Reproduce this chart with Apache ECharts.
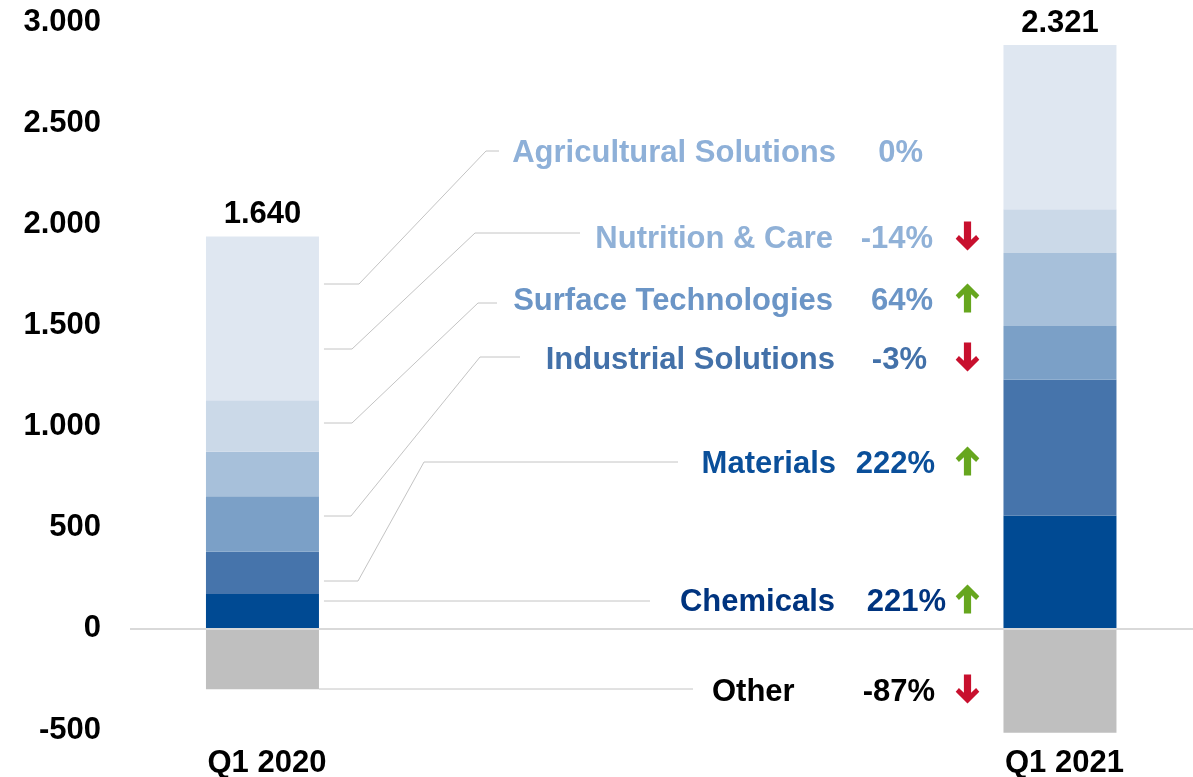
<!DOCTYPE html>
<html>
<head>
<meta charset="utf-8">
<script src="https://cdn.jsdelivr.net/npm/echarts@6/dist/echarts.min.js"></script>
<style>
html,body{margin:0;padding:0;background:#fff;}
#chart{width:1193px;height:777px;}
</style>
</head>
<body>
<div id="chart"></div>
<script>
// ---- data ----
const categories = ['Q1 2020', 'Q1 2021'];
const segmentNames = ['Chemicals', 'Materials', 'Industrial Solutions', 'Surface Technologies', 'Nutrition & Care', 'Agricultural Solutions', 'Other'];
const chemicals = [172, 559];
const materials = [209, 672];
const industrialSolutions = [274, 266];
const surfaceTechnologies = [221, 361];
const nutritionCare = [254, 216];
const agriculturalSolutions = [810, 812];
const other = [-298, -513];
const totalLabels = [1640, 2321];
const changePct = ['221%', '222%', '-3%', '64%', '-14%', '0%', '-87%'];
const changeDir = ['up', 'up', 'down', 'up', 'down', 'none', 'down'];

// ---- styles / layout ----
const FONT = '"Liberation Sans", Arial, sans-serif';
const FS = 31;
const barColors = ['#004a93', '#4674ab', '#7ba0c7', '#a7c0da', '#cbd9e8', '#dfe7f1', '#bfbfbf'];
const textColors = ['#00347f', '#0a4f9a', '#4371a9', '#6b95c6', '#90b1d7', '#8eb0d8', '#000000'];
const BAR_W = 113;
// annotation layout (pixels): text row y, name anchor, pct right edge, leader polyline (after start)
const annot = [
  {ty: 600, nx: 835, nalign: 'right', px: 946, ly: 601, pts: [[650, 601]]},
  {ty: 462, nx: 836, nalign: 'right', px: 935, ly: 581, pts: [[358, 581], [424, 462], [678, 462]]},
  {ty: 358, nx: 835, nalign: 'right', px: 927, ly: 516, pts: [[351, 516], [480, 357], [520, 357]]},
  {ty: 299, nx: 833, nalign: 'right', px: 933, ly: 423, pts: [[352, 423], [478, 303], [497, 303]]},
  {ty: 237, nx: 833, nalign: 'right', px: 933, ly: 349, pts: [[352, 349], [475, 233], [580, 233]]},
  {ty: 151, nx: 836, nalign: 'right', px: 923, ly: 284, pts: [[359, 284], [486, 151], [499, 151]]},
  {ty: 690, nx: 712, nalign: 'left', px: 935, ly: 689, pts: [[693, 689]]}
];
const TEXT_DY = 2;
const ARROW_X = 967.5;

function fmtThousands(v) {
  const s = String(Math.abs(Math.round(v)));
  const out = s.replace(/\B(?=(\d{3})+(?!\d))/g, '.');
  return (v < 0 ? '-' : '') + out;
}

const seriesValues = [chemicals, materials, industrialSolutions, surfaceTechnologies, nutritionCare, agriculturalSolutions, other];

const chart = echarts.init(document.getElementById('chart'), null, {renderer: 'canvas'});

const series = seriesValues.map((vals, i) => {
  const s = {
    name: segmentNames[i],
    type: 'bar',
    stack: 'total',
    barWidth: BAR_W,
    clip: false,
    itemStyle: {color: barColors[i]},
    // value first so that it is the stacked dimension; x position second
    dimensions: ['val', 'pos'],
    encode: {x: 'pos', y: 'val'},
    data: vals.map((v, k) => [v, k]),
    emphasis: {disabled: true}
  };
  if (i === 5) {
    s.label = {
      show: true,
      position: 'top',
      distance: 6,
      formatter: p => fmtThousands(totalLabels[p.dataIndex]),
      fontFamily: FONT, fontSize: FS, fontWeight: 'bold', color: '#000'
    };
  }
  if (i === 0) {
    s.markLine = {
      silent: true,
      symbol: 'none',
      label: {show: false},
      lineStyle: {color: '#d9d9d9', width: 2, type: 'solid'},
      data: [{yAxis: 0}],
      z: 10
    };
  }
  return s;
});

chart.setOption({
  animation: false,
  backgroundColor: '#ffffff',
  grid: {left: 130, right: 0, top: 22, bottom: 47, containLabel: false, outerBoundsMode: 'none'},
  xAxis: {
    type: 'value',
    min: -0.1661,
    max: 1.1668,
    axisLine: {show: false, onZero: false},
    axisTick: {show: false},
    splitLine: {show: false},
    axisLabel: {
      customValues: [0, 1],
      formatter: v => categories[Math.round(v)] || '',
      margin: 16,
      padding: [2, 0, 0, 9],
      fontFamily: FONT, fontSize: FS, fontWeight: 'bold', color: '#000'
    }
  },
  yAxis: {
    type: 'value',
    min: -500,
    max: 3000,
    interval: 500,
    axisLine: {show: false},
    axisTick: {show: false},
    splitLine: {show: false},
    axisLabel: {
      formatter: v => fmtThousands(v),
      margin: 29,
      padding: [6, 0, 0, 0],
      fontFamily: FONT, fontSize: FS, fontWeight: 'bold', color: '#000'
    }
  },
  series: series
});

// annotations: leader lines, labels, arrows
const barRight = chart.convertToPixel({xAxisIndex: 0}, 0) + BAR_W / 2;
const graphics = [];
annot.forEach((a, i) => {
  const startX = barRight + (i === 6 ? 0 : 5);
  graphics.push({
    type: 'polyline',
    silent: true,
    shape: {points: [[startX, a.ly]].concat(a.pts)},
    style: {stroke: '#c4c4c4', lineWidth: 1, fill: null}
  });
  graphics.push({
    type: 'text',
    silent: true,
    style: {
      text: segmentNames[i], x: a.nx, y: a.ty + TEXT_DY, align: a.nalign, verticalAlign: 'middle',
      font: 'bold ' + FS + 'px ' + FONT, fill: textColors[i]
    }
  });
  graphics.push({
    type: 'text',
    silent: true,
    style: {
      text: changePct[i], x: a.px, y: a.ty + TEXT_DY, align: 'right', verticalAlign: 'middle',
      font: 'bold ' + FS + 'px ' + FONT, fill: textColors[i]
    }
  });
  if (changeDir[i] !== 'none') {
    const up = changeDir[i] === 'up';
    // arrow outline, tip at (0,0), pointing up; total height 29
    const base = [[0, 0], [11.8, 11.8], [8.6, 15.5], [3.6, 10.8], [3.6, 29], [-3.6, 29], [-3.6, 10.8], [-8.6, 15.5], [-11.8, 11.8]];
    const top = a.ty - 15.5;
    const pts = base.map(p => [ARROW_X + p[0], up ? top + p[1] : top + 29 - p[1]]);
    graphics.push({
      type: 'polygon',
      silent: true,
      shape: {points: pts},
      style: {fill: up ? '#66a61e' : '#c8102e'}
    });
  }
});
chart.setOption({graphic: graphics});
</script>
</body>
</html>
